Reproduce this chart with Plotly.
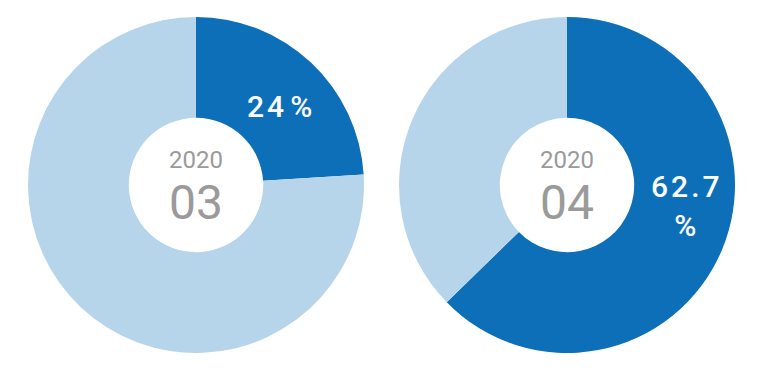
import plotly.graph_objects as go

years = ["2020", "2020"]
months = ["03", "04"]
share = [24, 62.7]
rest = [76, 37.3]
pct_labels = ["2\u200a4\u2009%", "6\u200a2\u200a.\u200a7<br>%"]

dark = "#0D6FB8"
light = "#B7D5EA"

W, H = 760, 371
OFF = 8  # page body margin compensation
centers_x = [196, 567]
cy = 185
R = 168
label_pos = [(279, 106), (685, 206)]


def px(x):
    return (x - OFF) / W


def py(y):
    return (H - (y - OFF)) / H


def note(x, y, text, size, color, weight=400):
    fig.add_annotation(x=px(x), y=py(y), xref="paper", yref="paper",
                       xanchor="center", yanchor="middle",
                       text=text, showarrow=False,
                       font=dict(family="Roboto", size=size, color=color,
                                 weight=weight))


fig = go.Figure()
for i in range(2):
    cx = centers_x[i]
    fig.add_trace(go.Pie(
        values=[share[i], rest[i]],
        labels=["share", "rest"],
        textinfo="none",
        marker=dict(colors=[dark, light], line=dict(width=0)),
        hole=0.4,
        sort=False,
        direction="clockwise",
        rotation=0,
        showlegend=False,
        hoverinfo="skip",
        domain=dict(x=[px(cx - R), px(cx + R)],
                    y=[py(cy + R), py(cy - R)]),
    ))
    note(cx, 160, years[i], 24, "#9a9a9a")
    note(cx, 203, months[i], 48, "#9a9a9a")
    lx, ly = label_pos[i]
    note(lx, ly, pct_labels[i], 30, "white", 500)

fig.update_layout(width=W, height=H, margin=dict(l=0, r=0, t=0, b=0),
                  paper_bgcolor="white", plot_bgcolor="white")
fig.write_html("out.html")
